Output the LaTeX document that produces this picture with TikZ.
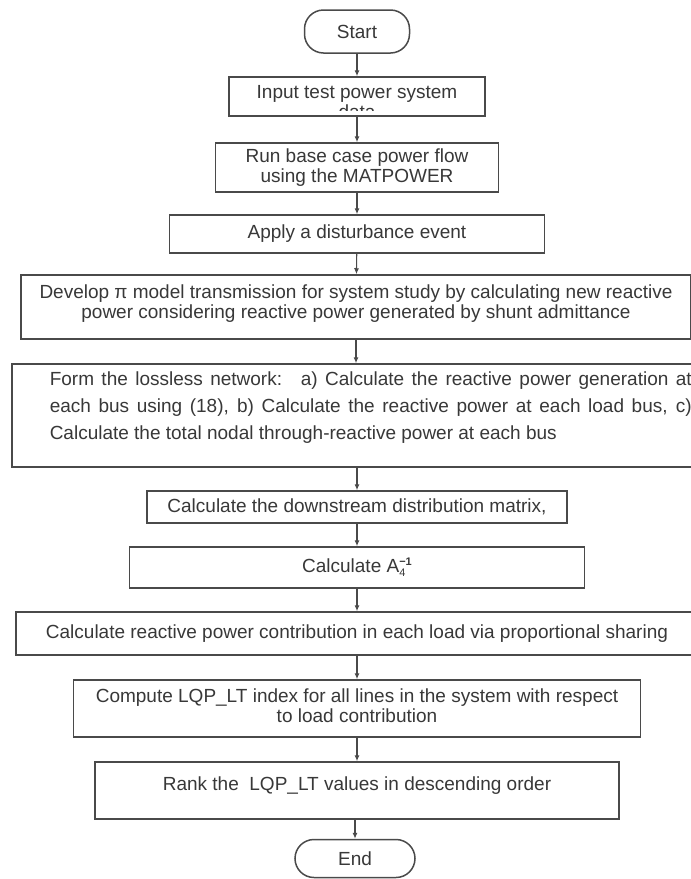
\documentclass[tikz,border=0pt]{standalone}
\usepackage{fontspec}
\setmainfont{Liberation Sans}
\usetikzlibrary{arrows.meta}

\definecolor{edge}{HTML}{4A4A4A}
\definecolor{ink}{HTML}{383838}
\newcommand{\subsupidx}[2]{\rlap{\raisebox{-4pt}{\fontsize{11}{11}\selectfont #1}}\raisebox{7pt}{\fontsize{11}{11}\selectfont\bfseries #2}}

\begin{document}
\begin{tikzpicture}[
    x=1pt, y=-1pt,
    font=\fontsize{19}{20}\selectfont,
    >={Latex[length=6pt,width=5pt]},
    line width=1.1pt,
    stepbox/.style={draw=edge, line width=1.5pt, text=ink, align=center, inner sep=2pt},
    term/.style={stepbox, rounded corners=19pt},
    link/.style={->, draw=edge, line width=1.1pt}
]
\useasboundingbox (0,0) rectangle (691,879);
\fill[white] (0,0) rectangle (691,879);

\node[term, minimum width=105pt, minimum height=43pt] (start) at (357,31.5) {Start};

\node[stepbox, minimum width=256pt, minimum height=39pt] (input) at (357,96.5) {};
\begin{scope}
  \clip ([yshift=6pt]input.south west) rectangle (input.north east);
  \node[text=ink, align=center] (inputtxt) at ([yshift=-6pt]input.center) {Input test power system\\data};
\end{scope}

\node[stepbox, minimum width=283pt, minimum height=49pt] (run) at (357,167.5) {Run base case power flow\\using the MATPOWER};
\node[stepbox, minimum width=375pt, minimum height=38pt] (apply) at (357,234) {Apply a disturbance event};
\node[stepbox, minimum width=670pt, minimum height=64pt, text depth=10pt] (develop) at (356,307) {Develop π model transmission for system study by calculating new reactive\\power considering reactive power generated by shunt admittance};

\node[stepbox, anchor=west, align=justify, text width=642pt, inner xsep=38pt, minimum height=103pt, text depth=73pt,
      font=\fontsize{19}{27}\selectfont] (lossless) at (11,415.5)
  {Form the lossless network:~ a) Calculate the reactive power generation at\linebreak
   each bus using (18), b) Calculate the reactive power at each load bus, c)\linebreak
   Calculate the total nodal through-reactive power at each bus};

\node[stepbox, minimum width=420pt, minimum height=32pt] (down) at (357,507) {Calculate the downstream distribution matrix,};
\node[stepbox, minimum width=455pt, minimum height=41pt] (ainv) at (357,567.5) {Calculate A\subsupidx{4}{−1}};
\node[stepbox, minimum width=682pt, minimum height=43pt] (prop) at (357,633.5) {Calculate reactive power contribution in each load via proportional sharing};
\node[stepbox, minimum width=567pt, minimum height=57pt, text depth=6pt] (compute) at (357,708.5) {Compute LQP\_LT index for all lines in the system with respect\\to load contribution};
\node[stepbox, minimum width=524pt, minimum height=57pt, text depth=14pt] (rank) at (357,790.5) {Rank the~ LQP\_LT values in descending order};
\node[term, minimum width=120pt, minimum height=38pt] (end) at (355,858.5) {End};

% flow
\draw[link] (start) -- (input);
\draw[link] (input) -- (run);
\draw[link] (run) -- (apply);
\draw[link] (apply) -- (develop);
\draw[link] (develop.south) -- (develop.south |- lossless.north);
\draw[link] (down.north |- lossless.south) -- (down.north);
\draw[link] (down) -- (ainv);
\draw[link] (ainv) -- (prop);
\draw[link] (prop) -- (compute);
\draw[link] (compute) -- (rank);
\draw[link] (rank.south -| end.north) -- (end.north);
\end{tikzpicture}
\end{document}
